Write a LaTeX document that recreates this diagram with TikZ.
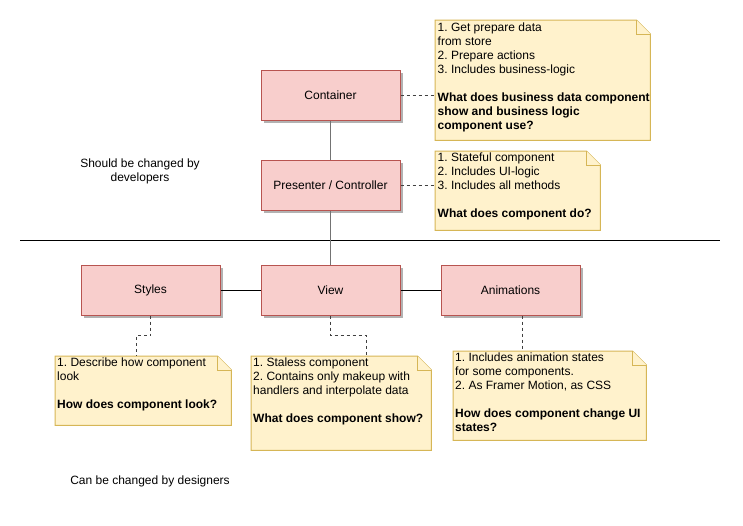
\documentclass[tikz,border=0pt]{standalone}
\usepackage{fontspec}
\setmainfont{Liberation Sans}
\usetikzlibrary{shadows}
\frenchspacing
\definecolor{boxfill}{HTML}{F8CECC}
\definecolor{boxline}{HTML}{B85450}
\definecolor{notefill}{HTML}{FFF2CC}
\definecolor{noteline}{HTML}{D6B656}
\newcommand{\drawnote}[1]{%
  \filldraw[notestroke] (#1.north west) -- ([xshift=-14pt]#1.north east) -- ([yshift=-14pt]#1.north east) -- (#1.south east) -- (#1.south west) -- cycle;
  \draw[notestroke] ([xshift=-14pt]#1.north east) -- ([xshift=-14pt,yshift=-14pt]#1.north east) -- ([yshift=-14pt]#1.north east);}
\begin{document}
\begin{tikzpicture}[x=1pt,y=-1pt,
  txt/.style={font=\fontsize{12}{14}\selectfont\frenchspacing},
  compbox/.style={txt, draw=boxline, fill=boxfill, line width=1pt, minimum width=139pt, minimum height=50pt, inner sep=0pt,
    drop shadow={shadow xshift=3pt, shadow yshift=-3pt, opacity=0.3, fill=black}},
  noteframe/.style={anchor=north west, inner sep=0pt, draw=none},
  notestroke/.style={draw=noteline, fill=notefill, line width=1pt},
  notetext/.style={txt, anchor=north west, inner sep=0pt, align=left},
  plaintext/.style={txt, align=center, inner sep=0pt},
  solidline/.style={draw=black, line width=1pt},
  trunkline/.style={draw=black!55, line width=1.4pt},
  dashline/.style={draw=black!75, line width=1pt, dash pattern=on 3pt off 3pt}
]
\useasboundingbox (0,0) rectangle (743,525);

% separator
\coordinate (sepL) at (20,240);
\coordinate (sepR) at (720,240);
\draw[solidline] (sepL) -- (sepR);

% component boxes
\node[compbox] (ctr) at (330.5,95) {Container};
\node[compbox] (pres) at (330.5,185) {Presenter / Controller};
\node[compbox] (sty) at (150.5,290) {Styles};
\node[compbox] (view) at (330.5,290) {View};
\node[compbox] (anim) at (510.5,290) {Animations};

% trunk
\draw[trunkline] (ctr.south) -- (pres.north);
\draw[trunkline] (pres.south) -- (view.north);
\draw[solidline] (sty.east) -- (view.west);
\draw[solidline] (view.east) -- (anim.west);

% notes
\node[noteframe, minimum width=215pt, minimum height=120pt] (n1) at (435,20) {};
\node[noteframe, minimum width=165pt, minimum height=79pt] (n2) at (435,151) {};
\node[noteframe, minimum width=176pt, minimum height=69pt] (n3) at (55,356) {};
\node[noteframe, minimum width=180pt, minimum height=94pt] (n4) at (251,356) {};
\node[noteframe, minimum width=193pt, minimum height=89pt] (n5) at (453,351) {};
\drawnote{n1}
\drawnote{n2}
\drawnote{n3}
\drawnote{n4}
\drawnote{n5}

\node[notetext] (t1) at ([xshift=2.5pt,yshift=-3pt]n1.north west) {1. Get prepare data\\from store\\2. Prepare actions\\3. Includes business-logic\\[14pt]\textbf{What does business data component}\\\textbf{show and business logic}\\\textbf{component use?}};
\node[notetext] (t2) at ([xshift=2.5pt,yshift=-1.5pt]n2.north west) {1. Stateful component\\2. Includes UI-logic\\3. Includes all methods\\[14pt]\textbf{What does component do?}};
\node[notetext] (t3) at ([xshift=2pt,yshift=-2pt]n3.north west) {1. Describe how component\\look\\[14pt]\textbf{How does component look?}};
\node[notetext] (t4) at ([xshift=2pt,yshift=-2pt]n4.north west) {1. Staless component\\2. Contains only makeup with\\handlers and interpolate data\\[14pt]\textbf{What does component show?}};
\node[notetext] (t5) at ([xshift=2pt,yshift=-2pt]n5.north west) {1. Includes animation states\\for some components.\\2. As Framer Motion, as CSS\\[14pt]\textbf{How does component change UI}\\\textbf{states?}};

% dashed links
\draw[dashline] (ctr.east) -- (n1.west |- ctr.east);
\draw[dashline] (pres.east) -- (n2.west |- pres.east);
\draw[dashline] (sty.south) -- ++(0,20) -| ([xshift=-7pt]n3.north);
\draw[dashline] (view.south) -- ++(0,20) -| ([xshift=25pt]n4.north);
\draw[dashline] ([xshift=12pt]anim.south) -- ([xshift=12pt]anim.south |- n5.north);

% side labels
\node[plaintext] (lab1) at (140,171) {Should be changed by\\developers};
\node[plaintext] (lab2) at (150,481) {Can be changed by designers};
\end{tikzpicture}
\end{document}
